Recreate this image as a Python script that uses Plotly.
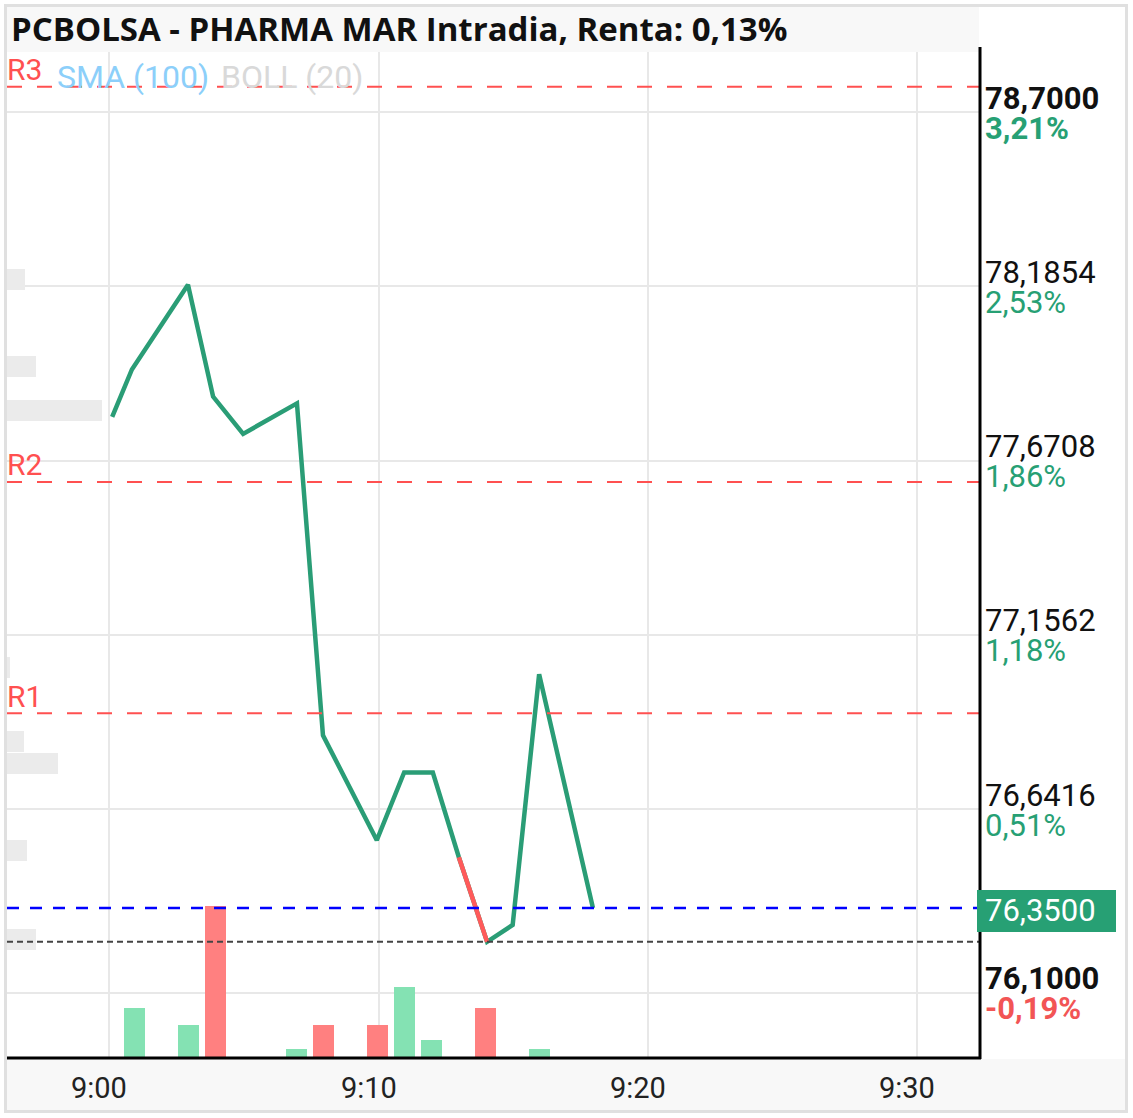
import plotly.graph_objects as go

# ---------------- data ----------------
title_text = "PCBOLSA - PHARMA MAR Intradia, Renta: 0,13%"
day = "2024-01-01 "

line_times = ["09:00:06", "09:00:50", "09:02:55", "09:03:51", "09:04:58", "09:06:58",
              "09:07:56", "09:09:56", "09:10:57", "09:12:01", "09:12:59", "09:14:02",
              "09:14:59", "09:15:58", "09:17:58"]
line_prices = [77.80, 77.94, 78.19, 77.86, 77.75, 77.84,
               76.86, 76.55, 76.75, 76.75, 76.50, 76.25,
               76.30, 77.04, 76.35]
red_segment = (10, 11)  # indices of the segment drawn in red

vol_times = ["09:00:56", "09:02:57", "09:03:57", "09:06:56", "09:07:58",
             "09:09:58", "09:10:58", "09:11:57", "09:13:58", "09:15:58"]
vol_values = [640, 412, 1963, 100, 412, 412, 910, 217, 640, 100]
vol_dir = ["up", "up", "down", "up", "down", "down", "up", "up", "down", "up"]

profile_prices = [78.207, 77.948, 77.818, 77.059, 76.843, 76.778, 76.521, 76.256]
profile_volumes = [180, 290, 950, 30, 170, 510, 200, 290]

levels_r = {"R1": 76.925, "R2": 77.608, "R3": 78.775}
last_price = 76.35
prev_close = 76.25

ytick_vals = [78.7, 78.1854, 77.6708, 77.1562, 76.6416, 76.1]
ytick_price_labels = ["78,7000", "78,1854", "77,6708", "77,1562", "76,6416", "76,1000"]
ytick_pct_labels = ["3,21%", "2,53%", "1,86%", "1,18%", "0,51%", "-0,19%"]
ytick_bold = [True, False, False, False, False, True]
last_price_label = "76,3500"

xtick_times = ["09:00", "09:10", "09:20", "09:30"]
xtick_labels = ["9:00", "9:10", "9:20", "9:30"]

legend_items = [("SMA (100)", "#8ccffa"), ("BOLL (20)", "#d9d9d9")]

# ---------------- layout geometry ----------------
W, H = 1133, 1118
L, R, T, B = 7, 153, 52, 61
PW = W - L - R
PH = H - T - B


def px(x):
    return (x - L) / PW


def py(y):
    return (H - B - y) / PH


GREEN = "#27a074"
LINE_GREEN = "#2a9d76"
RED_TXT = "#f25555"
FONT = "Roboto"

fig = go.Figure()

# volume profile (left, horizontal)
fig.add_trace(go.Bar(
    x=profile_volumes, y=profile_prices, orientation="h", width=0.062,
    marker=dict(color="#ebebeb", line=dict(width=0)),
    xaxis="x2", yaxis="y", hoverinfo="skip", showlegend=False))

# volume bars (bottom)
vol_colors = ["#84e2b3" if d == "up" else "#ff8080" for d in vol_dir]
fig.add_trace(go.Bar(
    x=[day + t for t in vol_times], y=vol_values, width=46800,
    marker=dict(color=vol_colors, line=dict(width=0)),
    xaxis="x", yaxis="y2", hoverinfo="skip", showlegend=False))

# price line
fig.add_trace(go.Scatter(
    x=[day + t for t in line_times], y=line_prices, mode="lines",
    line=dict(color=LINE_GREEN, width=4.5), xaxis="x", yaxis="y", showlegend=False))
i0, i1 = red_segment
fig.add_trace(go.Scatter(
    x=[day + t for t in line_times[i0:i1 + 1]], y=line_prices[i0:i1 + 1], mode="lines",
    line=dict(color="#ff5a5a", width=4.5), xaxis="x", yaxis="y", showlegend=False))

shapes = []
annotations = []

# background bands and border
shapes.append(dict(type="rect", xref="paper", yref="paper", layer="below",
                   x0=px(7), x1=px(979), y0=py(52), y1=py(7),
                   fillcolor="#f8f8f8", line=dict(width=0)))
shapes.append(dict(type="rect", xref="paper", yref="paper", layer="below",
                   x0=px(7), x1=px(1125), y0=py(1110), y1=py(1059),
                   fillcolor="#f8f8f8", line=dict(width=0)))
shapes.append(dict(type="rect", xref="paper", yref="paper", layer="above",
                   x0=px(5.5), x1=px(1126.5), y0=py(1111.5), y1=py(5.5),
                   fillcolor="rgba(0,0,0,0)", line=dict(color="#e0e0e0", width=3)))

# level lines
for name, val in levels_r.items():
    shapes.append(dict(type="line", xref="paper", yref="y", layer="above",
                       x0=0, x1=1, y0=val, y1=val,
                       line=dict(color="#ff5050", width=2, dash="15px,15px")))
    annotations.append(dict(xref="paper", yref="y", x=0, y=val, xanchor="left",
                            yanchor="middle", yshift=17, xshift=-2, text=name, showarrow=False,
                            font=dict(family=FONT, size=30, color="#ff5050")))
shapes.append(dict(type="line", xref="paper", yref="y", layer="above",
                   x0=0, x1=1, y0=last_price, y1=last_price,
                   line=dict(color="#0000ff", width=2.5, dash="12px,11px")))
shapes.append(dict(type="line", xref="paper", yref="y", layer="above",
                   x0=0, x1=1, y0=prev_close, y1=prev_close,
                   line=dict(color="#444444", width=2, dash="6px,4px")))

# axis lines
shapes.append(dict(type="line", xref="paper", yref="paper", layer="above",
                   x0=px(980), x1=px(980), y0=py(1059), y1=py(47),
                   line=dict(color="black", width=3)))
shapes.append(dict(type="line", xref="paper", yref="paper", layer="above",
                   x0=px(7), x1=px(981), y0=py(1058), y1=py(1058),
                   line=dict(color="black", width=3)))

# last price box
shapes.append(dict(type="rect", xref="paper", yref="y", layer="above",
                   x0=px(977), x1=px(1116), ysizemode="pixel", yanchor=last_price,
                   y0=-24, y1=18, fillcolor=GREEN, line=dict(width=0)))
annotations.append(dict(xref="paper", yref="y", x=1, y=last_price, xanchor="left",
                        yanchor="middle", xshift=3, yshift=-3, text=last_price_label,
                        showarrow=False, font=dict(family=FONT, size=31, color="white")))

# y tick labels
for v, pl, pc, bold in zip(ytick_vals, ytick_price_labels, ytick_pct_labels, ytick_bold):
    pct_color = RED_TXT if pc.startswith("-") else GREEN
    t1 = f"<b>{pl}</b>" if bold else pl
    t2 = f"<b>{pc}</b>" if bold else pc
    annotations.append(dict(xref="paper", yref="y", x=1, y=v, xanchor="left",
                            yanchor="middle", xshift=3, yshift=14, text=t1, showarrow=False,
                            font=dict(family=FONT, size=31, color="#111111")))
    annotations.append(dict(xref="paper", yref="y", x=1, y=v, xanchor="left",
                            yanchor="middle", xshift=3, yshift=-16, text=t2, showarrow=False,
                            font=dict(family=FONT, size=31, color=pct_color)))

# x tick labels
for t, lab in zip(xtick_times, xtick_labels):
    annotations.append(dict(xref="x", yref="paper", x=day + t, y=0, xanchor="center",
                            yanchor="middle", xshift=-10, yshift=-31, text=lab, showarrow=False,
                            font=dict(family=FONT, size=29, color="#222222")))

# title
annotations.append(dict(xref="paper", yref="paper", x=px(9), y=py(29), xanchor="left",
                        yanchor="middle", text=f"<b>{title_text}</b>", showarrow=False,
                        font=dict(family="Open Sans", size=33, color="#111111")))

# indicator legend
lx = [55, 219]
for (txt, col), x0 in zip(legend_items, lx):
    annotations.append(dict(xref="paper", yref="paper", x=px(x0), y=py(77), xanchor="left",
                            yanchor="middle", text=txt, showarrow=False,
                            font=dict(family=FONT, size=32, color=col)))

ymin, ymax = 75.910, 78.8775
vmax = 13065
fig.update_layout(
    width=W, height=H, margin=dict(l=L, r=R, t=T, b=B, pad=0),
    paper_bgcolor="white", plot_bgcolor="white",
    showlegend=False, bargap=0,
    xaxis=dict(type="date", range=[day + "08:56:11.5", day + "09:32:21"],
               tickvals=[day + t for t in xtick_times], showticklabels=False,
               showgrid=True, gridcolor="#e8e8e8", gridwidth=2, zeroline=False,
               showline=False, ticks=""),
    xaxis2=dict(overlaying="x", range=[0, 9730], visible=False, showgrid=False),
    yaxis=dict(range=[ymin, ymax], tickvals=ytick_vals, showticklabels=False,
               showgrid=True, gridcolor="#e8e8e8", gridwidth=2, zeroline=False,
               showline=False, ticks="", side="right"),
    yaxis2=dict(overlaying="y", range=[0, vmax], visible=False, showgrid=False),
    shapes=shapes, annotations=annotations,
)

fig.write_html("out.html")
